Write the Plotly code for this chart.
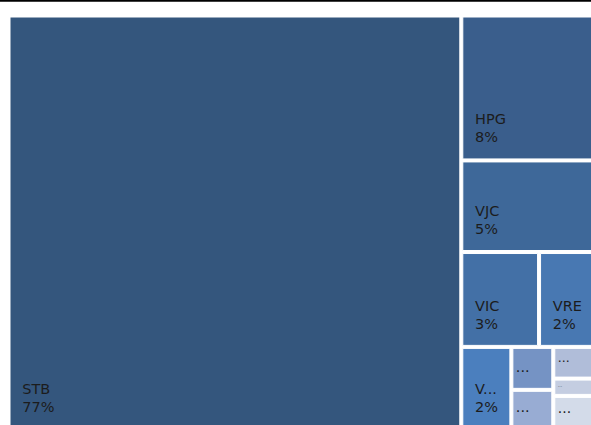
import plotly.graph_objects as go

# Data (share of total, %)
ids = ["STB", "HPG", "VJC", "VIC", "VRE", "V_other", "s1", "s2", "s3", "s4", "s5"]
labels = ["STB", "HPG", "VJC", "VIC", "VRE", "V...", "...", "...", "...", "...", "..."]
values = [77.2, 7.99, 5.05, 3.03, 2.2, 1.72, 0.74, 0.70, 0.55, 0.30, 0.60]
pct_text = ["77%", "8%", "5%", "3%", "2%", "2%", "", "", "", "", ""]
colors = ["#34567d", "#3a5e8c", "#3e6899", "#4370a6", "#4878b2", "#4b7fbe",
          "#7593c4", "#98acd3", "#b0bdd9", "#c4cde1", "#d3dbe9"]

BIG = "<span style='font-size:14.5px'>{}</span>"
GAP = "<span style='font-size:1px'>\u00a0</span>"
BR = "<br>" + GAP
sp = "\u00a0\u00a0"
texts = []
for l, p in zip(labels, pct_text):
    if p:
        t = BIG.format(sp + l) + BR * 3 + "<br>" + BIG.format(sp + p) + BR * 3
    else:
        t = BIG.format(l) + BR * 3
    texts.append(t)

fig = go.Figure(go.Treemap(
    ids=ids,
    labels=labels,
    parents=[""] * len(ids),
    values=values,
    text=texts,
    texttemplate="%{text}",
    textposition="bottom left",
    marker=dict(colors=colors, line=dict(color="white", width=1),
                pad=dict(t=0, l=0, r=0, b=0)),
    tiling=dict(pad=3),
    pathbar=dict(visible=False),
    textfont=dict(family="DejaVu Sans", size=3.5, color="#1c1c1c"),
    hoverinfo="label+value",
    sort=False,
))

fig.update_layout(
    width=594, height=429,
    margin=dict(l=10, r=0, t=17, b=0),
    paper_bgcolor="white",
    plot_bgcolor="white",
    shapes=[dict(type="line", xref="paper", yref="paper",
                 x0=-0.02, x1=1.02, y0=1 + 16.2 / 412, y1=1 + 16.2 / 412,
                 line=dict(color="black", width=2))],
)

fig.write_html("out.html", config={"displayModeBar": False},
               post_script="document.body.style.margin='0';document.body.style.overflow='hidden';")
